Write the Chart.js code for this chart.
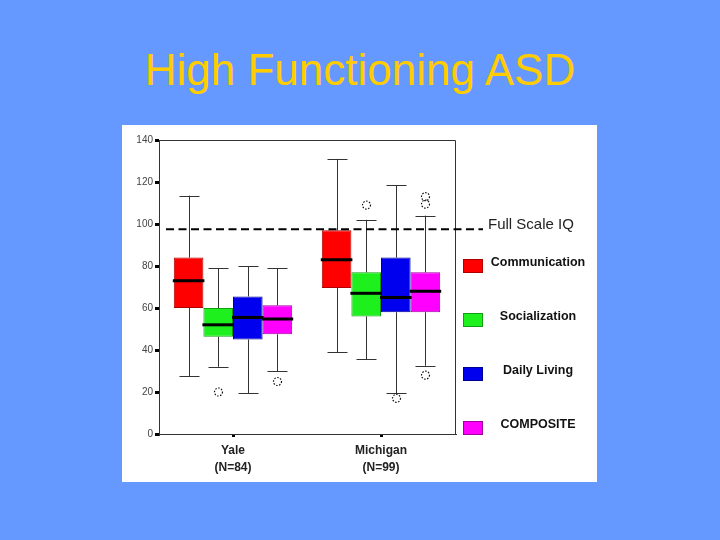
<!DOCTYPE html>
<html>
<head>
<meta charset="utf-8">
<script src="https://cdn.jsdelivr.net/npm/chart.js@4"></script>
<style>
  body { margin: 0; width: 720px; height: 540px; background: #6699ff; position: relative; overflow: hidden; }
  #title { position: absolute; left: 0; top: 45px; width: 720px; text-align: center;
    font-family: "Liberation Sans", Arial, sans-serif; font-size: 44px; line-height: 50px; color: #ffcc00; }
  #panel { position: absolute; left: 122px; top: 125px; width: 475px; height: 357px; background: #fff; }
</style>
</head>
<body>
<div id="title">High Functioning ASD</div>
<div id="panel"><canvas id="chart" width="475" height="357"></canvas></div>
<script>
// sites and measures
const groups = [["Yale", "(N=84)"], ["Michigan", "(N=99)"]];
const measures = ["Communication", "Socialization", "Daily Living", "COMPOSITE"];
const colors = ["#ff0000", "#1ef01e", "#0000ee", "#ff00ff"];
const edges = ["#b00000", "#10a010", "#000090", "#a000a0"];

// box plot stats, [measure][site] -> Yale, Michigan
const lowWhisker = [[27.5, 39], [32, 35.5], [19.5, 19.5], [30, 32.5]];
const q1 = [[60, 69.5], [46.3, 56], [45, 58], [47.5, 58]];
const median = [[73, 83], [52, 67], [55.5, 65], [54.8, 68]];
const q3 = [[84, 97], [60, 77], [65.5, 84], [61.3, 77]];
const highWhisker = [[113.5, 131], [79, 102], [80, 118.5], [79, 104]];
const outliers = [[[], []], [[20], [109]], [[], [17]], [[25], [109.5, 113, 28]]];

const yTicks = [0, 20, 40, 60, 80, 100, 120, 140];
const fullScaleIQ = 97.5;

const datasets = measures.map((m, i) => ({
  label: m,
  data: groups.map((g, j) => [q1[i][j], q3[i][j]]),
  backgroundColor: colors[i],
  borderColor: edges[i],
  borderWidth: 1,
  borderSkipped: false,
  categoryPercentage: 0.8,
  barPercentage: 1.0
}));

// whiskers, medians, outliers, reference line, legend
const boxExtras = {
  id: "boxExtras",
  afterDatasetsDraw(chart) {
    const ctx = chart.ctx;
    const y = chart.scales.y;
    const area = chart.chartArea;
    ctx.save();
    measures.forEach((m, i) => {
      const meta = chart.getDatasetMeta(i);
      meta.data.forEach((bar, j) => {
        const x = Math.round(bar.x) + 0.5;
        const w = bar.width;
        const cap = 10;
        ctx.strokeStyle = "#333";
        ctx.lineWidth = 1;
        ctx.setLineDash([]);
        ctx.beginPath();
        ctx.moveTo(x, y.getPixelForValue(q3[i][j]));
        ctx.lineTo(x, y.getPixelForValue(highWhisker[i][j]));
        ctx.moveTo(x - cap, Math.round(y.getPixelForValue(highWhisker[i][j])) + 0.5);
        ctx.lineTo(x + cap, Math.round(y.getPixelForValue(highWhisker[i][j])) + 0.5);
        ctx.moveTo(x, y.getPixelForValue(q1[i][j]));
        ctx.lineTo(x, y.getPixelForValue(lowWhisker[i][j]));
        ctx.moveTo(x - cap, Math.round(y.getPixelForValue(lowWhisker[i][j])) + 0.5);
        ctx.lineTo(x + cap, Math.round(y.getPixelForValue(lowWhisker[i][j])) + 0.5);
        ctx.stroke();
        // median
        ctx.strokeStyle = "#000";
        ctx.lineWidth = 3;
        ctx.beginPath();
        const my = y.getPixelForValue(median[i][j]);
        ctx.moveTo(bar.x - w / 2 - 1, my);
        ctx.lineTo(bar.x + w / 2 + 1, my);
        ctx.stroke();
        // outliers
        ctx.strokeStyle = "#111";
        ctx.lineWidth = 1.2;
        ctx.setLineDash([1.5, 1.5]);
        outliers[i][j].forEach(v => {
          ctx.beginPath();
          ctx.arc(x, y.getPixelForValue(v), 4, 0, Math.PI * 2);
          ctx.stroke();
        });
      });
    });

    // plot frame top and right
    ctx.setLineDash([]);
    ctx.strokeStyle = "#333";
    ctx.lineWidth = 1;
    ctx.beginPath();
    ctx.moveTo(area.left, Math.round(area.top) + 0.5);
    ctx.lineTo(Math.round(area.right) + 0.5, Math.round(area.top) + 0.5);
    ctx.lineTo(Math.round(area.right) + 0.5, area.bottom);
    ctx.stroke();

    // full scale IQ line
    const ly = y.getPixelForValue(fullScaleIQ);
    ctx.strokeStyle = "#000";
    ctx.lineWidth = 2;
    ctx.setLineDash([8, 4.5]);
    ctx.beginPath();
    ctx.moveTo(area.left + 7, ly);
    ctx.lineTo(area.right + 28, ly);
    ctx.stroke();
    ctx.setLineDash([]);
    ctx.fillStyle = "#222";
    ctx.font = "15px 'Liberation Sans', Arial, sans-serif";
    ctx.textAlign = "left";
    ctx.textBaseline = "middle";
    ctx.fillText("Full Scale IQ", area.right + 33, ly - 4);

    // legend
    ctx.font = "bold 12.5px 'Liberation Sans', Arial, sans-serif";
    ctx.textAlign = "center";
    measures.forEach((m, i) => {
      const top = area.top + 119 + i * 54;
      ctx.fillStyle = colors[i];
      ctx.fillRect(area.right + 8, top, 20, 14);
      ctx.strokeStyle = edges[i];
      ctx.lineWidth = 1;
      ctx.strokeRect(area.right + 8.5, top + 0.5, 19, 13);
      ctx.fillStyle = "#111";
      ctx.fillText(m, area.right + 83, top + 4);
    });
    ctx.restore();
  }
};

new Chart(document.getElementById("chart"), {
  type: "bar",
  data: { labels: groups, datasets: datasets },
  options: {
    responsive: false,
    animation: false,
    layout: { padding: { top: 15, right: 142, left: 0, bottom: 0 } },
    plugins: { legend: { display: false }, tooltip: { enabled: false } },
    scales: {
      x: {
        grid: { display: true, drawOnChartArea: false, offset: false, tickLength: 3, lineWidth: 3, color: "#000" },
        border: { display: true, color: "#333", width: 1 },
        ticks: { color: "#222", padding: 6, font: { family: "'Liberation Sans', Arial, sans-serif", size: 12, weight: "bold", lineHeight: 1.35 } },
        afterFit(scale) { scale.height = 48; }
      },
      y: {
        min: 0,
        max: 140,
        afterBuildTicks(scale) { scale.ticks = yTicks.map(v => ({ value: v })); },
        grid: { drawOnChartArea: false, tickLength: 4, lineWidth: 3, color: "#000" },
        border: { display: true, color: "#333", width: 1 },
        ticks: { color: "#444", padding: 2, font: { family: "'Liberation Sans', Arial, sans-serif", size: 10 } },
        afterFit(scale) { scale.width = 37; }
      }
    }
  },
  plugins: [boxExtras]
});
</script>
</body>
</html>
